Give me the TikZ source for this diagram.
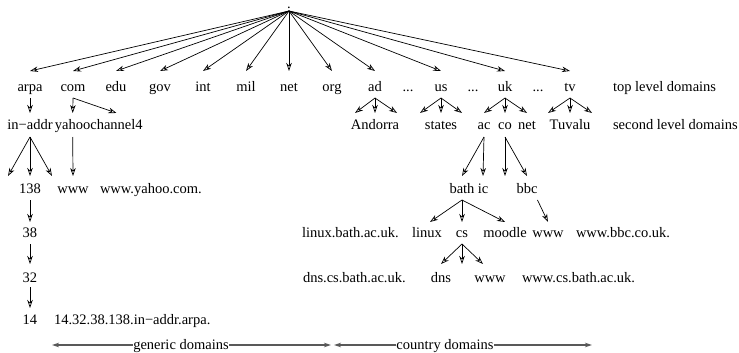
\documentclass[tikz,border=0pt]{standalone}
\usepackage{fontspec}
\setmainfont{Liberation Serif}
\usetikzlibrary{arrows.meta}
\begin{document}
\begin{tikzpicture}[x=1pt,y=-1pt,
  every node/.style={inner sep=0pt, outer sep=0pt, font=\fontsize{14.5}{17}\selectfont},
  rootst/.style={anchor=base, text height=1pt, text depth=2pt},
  rT/.style={anchor=base, text height=21pt, text depth=6pt},
  rS/.style={anchor=base, text height=16pt, text depth=8pt},
  r3/.style={anchor=base, text height=17pt, text depth=7pt},
  r4/.style={anchor=base, text height=15pt, text depth=7pt},
  r5/.style={anchor=base, text height=18pt, text depth=5pt},
  r6/.style={anchor=base, text height=16pt, text depth=4pt},
  lft/.style={anchor=base west},
  arr/.style={-{Stealth[length=8pt,width=5.5pt,inset=2.5pt,open]}, line width=0.7pt},
  dimline/.style={{Stealth[length=7pt,width=4.5pt]}-{Stealth[length=7pt,width=4.5pt]}, draw=black!65, line width=1.2pt},
  dimlabel/.style={anchor=base, fill=white, inner xsep=0.5pt}]
\useasboundingbox (0,0) rectangle (739,353);

% root
\node[rootst] (root) at (289,9) {.};

% top level
\node[rT] (arpa) at (30,92) {arpa};
\node[rT] (com)  at (73,92) {com};
\node[rT] (edu)  at (116,92) {edu};
\node[rT] (gov)  at (160,92) {gov};
\node[rT] (int)  at (203,92) {int};
\node[rT] (mil)  at (246,92) {mil};
\node[rT] (net)  at (289,92) {net};
\node[rT] (org)  at (332,92) {org};
\node[rT] (ad)   at (375,92) {ad};
\node[rT] (d1)   at (408,92) {...};
\node[rT] (us)   at (441,92) {us};
\node[rT] (d2)   at (473,92) {...};
\node[rT] (uk)   at (505,92) {uk};
\node[rT] (d3)   at (538,92) {...};
\node[rT] (tv)   at (570,92) {tv};
\node[lft] (tld) at (613,92) {top level domains};

% second level
\node[rS] (inaddr)   at (30,129) {in−addr};
\node[rS] (yahoo)    at (72.7,129) {yahoo};
\node[rS] (channel4) at (116.5,129) {channel4};
\node[rS] (andorra)  at (375,129) {Andorra};
\node[rS] (states)   at (441,129) {states};
\node[rS] (ac)       at (484,129) {ac};
\node[rS] (co)       at (505,129) {co};
\node[rS] (uknet)    at (527,129) {net};
\node[rS] (tuvalu)   at (570,129) {Tuvalu};
\node[lft] (sld)     at (613,129) {second level domains};

% third row
\node[r3] (n138)  at (30,193) {138};
\node[r3] (ywww)  at (73,193) {www};
\node[lft] (yfull) at (100,193) {www.yahoo.com.};
\node[r3] (bath)  at (462,193) {bath};
\node[r3] (ic)    at (483,193) {ic};
\node[r3] (bbc)   at (527,193) {bbc};

% fourth row
\node[r4] (n38)    at (30,237) {38};
\node[lft] (linuxfull) at (302,237) {linux.bath.ac.uk.};
\node[r4] (linux)  at (427,237) {linux};
\node[r4] (cs)     at (462,237) {cs};
\node[r4] (moodle) at (505,237) {moodle};
\node[r4] (bwww)   at (548,237) {www};
\node[lft] (bbcfull) at (576,237) {www.bbc.co.uk.};

% fifth row
\node[r5] (n32)   at (30,282) {32};
\node[lft] (dnsfull) at (303,282) {dns.cs.bath.ac.uk.};
\node[r5] (dns)   at (441,282) {dns};
\node[r5] (cwww)  at (490,282) {www};
\node[lft] (csfull) at (522,282) {www.cs.bath.ac.uk.};

% sixth row
\node[r6] (n14) at (30,324) {14};
\node[lft] (arpafull) at (54,324) {14.32.38.138.in−addr.arpa.};

% free ends
\coordinate (adL) at (355,113);
\coordinate (adR) at (397,113);
\coordinate (usL) at (420,113);
\coordinate (usR) at (462,113);
\coordinate (tvL) at (548,113);
\coordinate (tvR) at (592,113);
\coordinate (inL) at (8,176);
\coordinate (inR) at (52,176);
\coordinate (coD) at (505,176);
\coordinate (csD) at (462,264);

% root arrows
\foreach \t in {arpa,com,edu,gov,int,mil,net,org,ad,us,uk,tv}
  \draw[arr] (root.south) -- (\t.north);

% second level arrows
\draw[arr] (arpa.south) -- (inaddr.north);
\draw[arr] (com.south) -- (yahoo.north);
\draw[arr] (com.south) -- (channel4.north);
\draw[arr] (ad.south) -- (adL);
\draw[arr] (ad.south) -- (andorra.north);
\draw[arr] (ad.south) -- (adR);
\draw[arr] (us.south) -- (usL);
\draw[arr] (us.south) -- (states.north);
\draw[arr] (us.south) -- (usR);
\draw[arr] (uk.south) -- (ac.north);
\draw[arr] (uk.south) -- (co.north);
\draw[arr] (uk.south) -- (uknet.north);
\draw[arr] (tv.south) -- (tvL);
\draw[arr] (tv.south) -- (tuvalu.north);
\draw[arr] (tv.south) -- (tvR);

% third level arrows
\draw[arr] (inaddr.south) -- (inL);
\draw[arr] (inaddr.south) -- (n138.north);
\draw[arr] (inaddr.south) -- (inR);
\draw[arr] (yahoo.south) -- (ywww.north);
\draw[arr] (ac.south) -- (bath.north);
\draw[arr] (ac.south) -- (ic.north);
\draw[arr] (co.south) -- (coD);
\draw[arr] (co.south) -- (bbc.north);

% lower arrows
\draw[arr] (n138.south) -- (n38.north);
\draw[arr] (n38.south) -- (n32.north);
\draw[arr] (n32.south) -- (n14.north);
\draw[arr] (bath.south) -- ([xshift=3pt]linux.north);
\draw[arr] (bath.south) -- (cs.north);
\draw[arr] (bath.south) -- (moodle.north);
\draw[arr] (bbc.south east) -- (bwww.north);
\draw[arr] (cs.south) -- (dns.north);
\draw[arr] (cs.south) -- (csD);
\draw[arr] (cs.south) -- ([xshift=-7pt]cwww.north);

% domain ranges
\coordinate (gL) at (52,345);
\coordinate (gR) at (331,345);
\coordinate (cL) at (334,345);
\coordinate (cR) at (592,345);
\draw[dimline] (gL) -- (gR);
\draw[dimline] (cL) -- (cR);
\node[dimlabel] (generic) at (181,349) {generic domains};
\node[dimlabel] (country) at (445,349) {country domains};
\end{tikzpicture}
\end{document}
